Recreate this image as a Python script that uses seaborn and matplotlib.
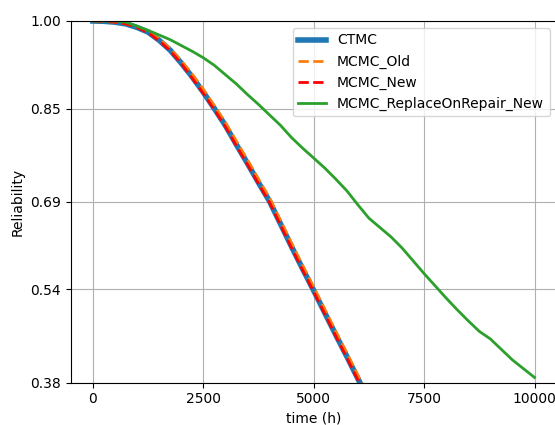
import matplotlib
matplotlib.use("Agg")
import matplotlib.pyplot as plt
import seaborn as sns
import pandas as pd

# Time grid (hours) for the curves
time_h = [0, 250, 500, 750, 1000, 1250, 1500, 1750, 2000, 2250, 2500, 2750,
          3000, 3250, 3500, 3750, 4000, 4250, 4500, 4750, 5000, 5250, 5500,
          5750, 6000, 6250]

ctmc = [1.000, 0.9995, 0.998, 0.995, 0.989, 0.981, 0.967, 0.950, 0.928, 0.904,
        0.878, 0.850, 0.821, 0.788, 0.756, 0.723, 0.691, 0.652, 0.613, 0.575,
        0.538, 0.500, 0.462, 0.425, 0.387, 0.350]

mcmc_old = [1.000, 0.9995, 0.998, 0.995, 0.990, 0.982, 0.969, 0.953, 0.932, 0.909,
            0.883, 0.855, 0.826, 0.794, 0.762, 0.729, 0.697, 0.658, 0.619, 0.581,
            0.544, 0.506, 0.468, 0.431, 0.393, 0.356]

mcmc_new = [1.000, 0.9995, 0.998, 0.995, 0.989, 0.980, 0.966, 0.949, 0.927, 0.902,
            0.876, 0.848, 0.819, 0.786, 0.754, 0.721, 0.689, 0.650, 0.611, 0.573,
            0.536, 0.498, 0.460, 0.423, 0.385, 0.348]

time_long_h = [0, 250, 500, 750, 1000, 1250, 1500, 1750, 2000, 2250, 2500, 2750,
               3000, 3250, 3500, 3750, 4000, 4250, 4500, 4750, 5000, 5250, 5500,
               5750, 6000, 6250, 6500, 6750, 7000, 7250, 7500, 7750, 8000, 8250,
               8500, 8750, 9000, 9250, 9500, 9750, 10000]

mcmc_replace_new = [1.000, 1.000, 1.000, 0.998, 0.991, 0.984, 0.976, 0.968, 0.958,
                    0.948, 0.937, 0.924, 0.908, 0.892, 0.874, 0.857, 0.839, 0.821,
                    0.800, 0.782, 0.765, 0.748, 0.729, 0.709, 0.685, 0.662, 0.646,
                    0.630, 0.611, 0.589, 0.567, 0.546, 0.525, 0.505, 0.486, 0.468,
                    0.455, 0.437, 0.419, 0.404, 0.389]

y_ticks = [0.38, 0.54, 0.69, 0.85, 1.00]
x_ticks = [0, 2500, 5000, 7500, 10000]

df_short = pd.DataFrame({"t": time_h, "CTMC": ctmc,
                         "MCMC_Old": mcmc_old, "MCMC_New": mcmc_new})
df_long = pd.DataFrame({"t": time_long_h, "MCMC_ReplaceOnRepair_New": mcmc_replace_new})

fig = plt.figure(figsize=(5.55, 4.25), dpi=100)
ax = fig.add_axes([70.8 / 555, 42.3 / 425, (556.6 - 70.8) / 555, (382.7 - 21.0) / 425])

sns.lineplot(data=df_short, x="t", y="CTMC", ax=ax, color="#1f77b4",
             linewidth=4, label="CTMC")
sns.lineplot(data=df_short, x="t", y="MCMC_Old", ax=ax, color="#ff7f0e",
             linewidth=2, linestyle="--", label="MCMC_Old")
sns.lineplot(data=df_short, x="t", y="MCMC_New", ax=ax, color="red",
             linewidth=2, linestyle="--", label="MCMC_New")
sns.lineplot(data=df_long, x="t", y="MCMC_ReplaceOnRepair_New", ax=ax,
             color="#2ca02c", linewidth=2, label="MCMC_ReplaceOnRepair_New")

ax.set_xlim(-500, 10500)
ax.set_ylim(0.38, 1.00)
ax.set_xticks(x_ticks)
ax.set_yticks(y_ticks)
ax.set_yticklabels([f"{v:.2f}" for v in y_ticks])
ax.grid(True)
ax.set_xlabel("time (h)")
ax.set_ylabel("Reliability")
ax.legend(loc="upper right")

fig.savefig("out.png", dpi=100)
